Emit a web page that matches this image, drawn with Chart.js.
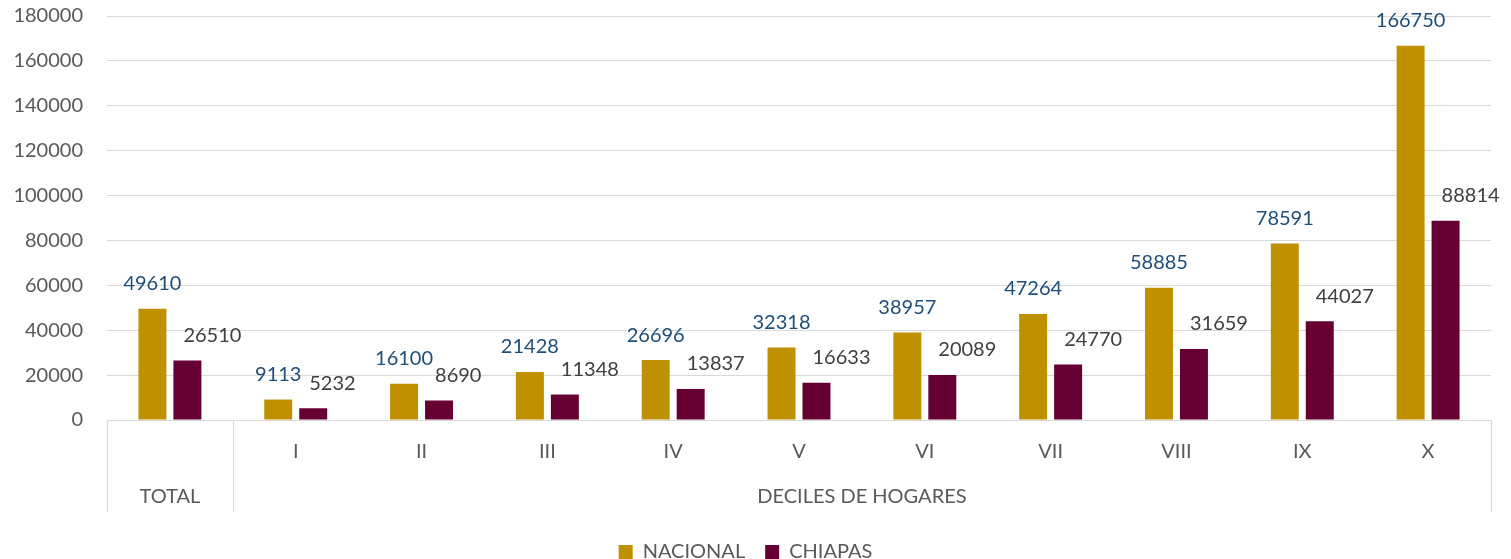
<!DOCTYPE html>
<html>
<head>
<meta charset="utf-8">
<script src="https://cdn.jsdelivr.net/npm/chart.js@4.4.0/dist/chart.umd.min.js"></script>
<style>
  html, body { margin: 0; padding: 0; background: #fff; }
  #wrap { width: 1511px; height: 559px; position: relative; }
</style>
</head>
<body>
<div id="wrap"><canvas id="chart"></canvas></div>
<script>
// categories: first one is the TOTAL group, the rest are the deciles
const categories = ['', 'I', 'II', 'III', 'IV', 'V', 'VI', 'VII', 'VIII', 'IX', 'X'];
const groupLabels = ['TOTAL', 'DECILES DE HOGARES'];

const nacional = [49610, 9113, 16100, 21428, 26696, 32318, 38957, 47264, 58885, 78591, 166750];
const chiapas  = [26510, 5232, 8690, 11348, 13837, 16633, 20089, 24770, 31659, 44027, 88814];

const yTicks = { min: 0, max: 180000, step: 20000 };

const GOLD = '#BF9000';
const WINE = '#660033';
const GRID = '#D9D9D9';
const TXT  = '#595959';

Chart.defaults.font.family = 'Lato, "Open Sans", sans-serif';
Chart.defaults.font.size = 20;
Chart.defaults.color = TXT;

// value labels above the bars
const valueLabels = {
  id: 'valueLabels',
  afterDatasetsDraw(chart) {
    const ctx = chart.ctx;
    ctx.save();
    ctx.font = '20px ' + Chart.defaults.font.family;
    ctx.textBaseline = 'middle';
    chart.data.datasets.forEach((ds, i) => {
      const meta = chart.getDatasetMeta(i);
      meta.data.forEach((bar, j) => {
        const txt = String(ds.data[j]);
        if (i === 0) {
          ctx.fillStyle = '#1F4E79';
          ctx.textAlign = 'center';
          ctx.fillText(txt, bar.x, bar.y - 25);
        } else {
          ctx.fillStyle = '#404040';
          ctx.textAlign = 'left';
          ctx.fillText(txt, bar.x - bar.width / 2 + 10, bar.y - 25);
        }
      });
    });
    ctx.restore();
  }
};

// group separators and group names under the category axis
const groupAxis = {
  id: 'groupAxis',
  afterDraw(chart) {
    const ctx = chart.ctx;
    const x = chart.scales.x;
    const area = chart.chartArea;
    const half = (x.getPixelForValue(1) - x.getPixelForValue(0)) / 2;
    const left = x.getPixelForValue(0) - half;
    const split = x.getPixelForValue(0) + half;
    const right = x.getPixelForValue(categories.length - 1) + half;
    const bottom = area.bottom + 92;
    ctx.save();
    ctx.strokeStyle = GRID;
    ctx.lineWidth = 1;
    [left, split, right].forEach(px => {
      ctx.beginPath();
      ctx.moveTo(Math.round(px) + 0.5, area.bottom);
      ctx.lineTo(Math.round(px) + 0.5, bottom);
      ctx.stroke();
    });
    ctx.fillStyle = TXT;
    ctx.font = '20px ' + Chart.defaults.font.family;
    ctx.textAlign = 'center';
    ctx.textBaseline = 'middle';
    ctx.fillText(groupLabels[0], (left + split) / 2, area.bottom + 77);
    ctx.fillText(groupLabels[1], (split + right) / 2, area.bottom + 77);
    ctx.restore();
  }
};

new Chart(document.getElementById('chart'), {
  type: 'bar',
  data: {
    labels: categories,
    datasets: [
      { label: 'NACIONAL', data: nacional, backgroundColor: GOLD },
      { label: 'CHIAPAS', data: chiapas, backgroundColor: WINE }
    ]
  },
  options: {
    responsive: true,
    maintainAspectRatio: false,
    animation: false,
    layout: { padding: { top: 0, right: 20, left: 0, bottom: -13 } },
    datasets: { bar: { categoryPercentage: 0.556, barPercentage: 0.8 } },
    scales: {
      x: {
        grid: { display: false },
        border: { color: GRID },
        ticks: { padding: 12, color: TXT, maxRotation: 0, autoSkip: false },
        afterFit(scale) { scale.height = 102; }
      },
      y: {
        min: yTicks.min,
        max: yTicks.max,
        grid: { color: GRID, drawTicks: true, tickLength: 20, tickColor: 'transparent' },
        border: { display: false },
        ticks: {
          stepSize: yTicks.step,
          padding: 4,
          color: TXT,
          callback: v => String(v)
        },
        afterFit(scale) { scale.width = 107; }
      }
    },
    plugins: {
      legend: {
        position: 'bottom',
        labels: { boxWidth: 14, boxHeight: 14, padding: 20, color: TXT }
      },
      tooltip: { enabled: false }
    }
  },
  plugins: [valueLabels, groupAxis]
});
</script>
</body>
</html>
